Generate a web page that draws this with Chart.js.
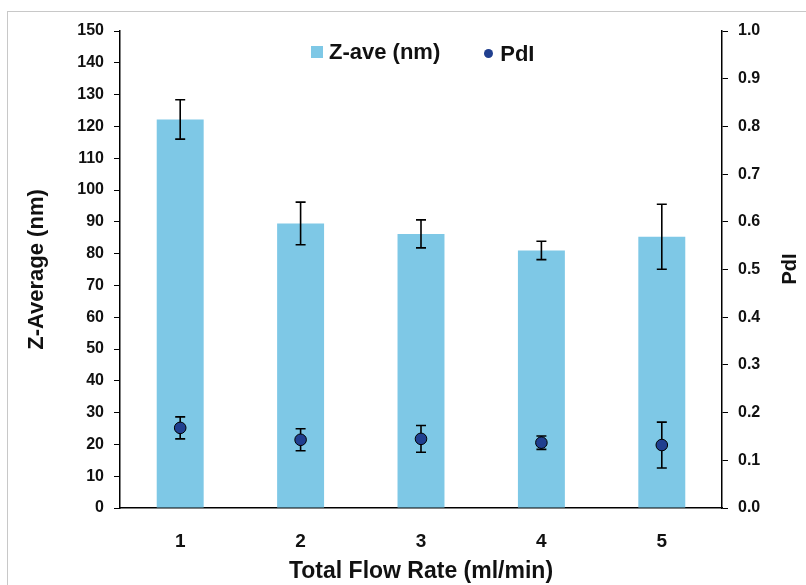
<!DOCTYPE html>
<html>
<head>
<meta charset="utf-8">
<script src="https://cdn.jsdelivr.net/npm/chart.js@4/dist/chart.umd.min.js"></script>
<style>
  html, body { margin: 0; padding: 0; background: #fff; overflow: hidden; }
  #wrap { position: relative; width: 806px; height: 585px; }
  #frame { position: absolute; left: 7px; top: 11px; width: 900px; height: 700px; border: 1px solid #c8c8c8; }
  #legend { position: absolute; top: 38px; left: 311px; white-space: nowrap;
    font: bold 22px "Liberation Sans", Arial, sans-serif; color: #111; }
  #legend span { display: inline-flex; align-items: center; }
  .sq { width: 12px; height: 12px; background: #7ec8e6; margin-right: 6px; }
  .dot { width: 9px; height: 9px; border-radius: 50%; background: #203f8f; margin: 0 7px 0 44px; }
</style>
</head>
<body>
<div id="wrap">
  <div id="frame"></div>
  <canvas id="chart" width="806" height="585"></canvas>
  <div id="legend"><span><i class="sq"></i>Z-ave (nm)</span><span><i class="dot"></i>PdI</span></div>
</div>
<script>
// values
const flowRates = ["1", "2", "3", "4", "5"];
const zAve = [122.2, 89.5, 86.2, 81.0, 85.3];
const zAveErr = [6.2, 6.7, 4.4, 2.9, 10.2];
const pdi = [0.168, 0.143, 0.145, 0.137, 0.132];
const pdiErr = [0.023, 0.023, 0.028, 0.014, 0.048];

// draws the error bars, points on top, and the right axis title
const extras = {
  id: "extras",
  afterDatasetsDraw(chart) {
    const ctx = chart.ctx;
    const x = chart.scales.x;
    const sets = [
      { scale: chart.scales.y, vals: zAve, errs: zAveErr },
      { scale: chart.scales.y1, vals: pdi, errs: pdiErr },
    ];
    ctx.save();
    ctx.strokeStyle = "#000";
    ctx.lineWidth = 1.6;
    sets.forEach((s) => {
      s.vals.forEach((v, i) => {
        const px = x.getPixelForValue(i);
        const top = s.scale.getPixelForValue(v + s.errs[i]);
        const bot = s.scale.getPixelForValue(v - s.errs[i]);
        ctx.beginPath();
        ctx.moveTo(px, top); ctx.lineTo(px, bot);
        ctx.moveTo(px - 5, top); ctx.lineTo(px + 5, top);
        ctx.moveTo(px - 5, bot); ctx.lineTo(px + 5, bot);
        ctx.stroke();
      });
    });
    const meta = chart.getDatasetMeta(1);
    meta.data.forEach((pt) => {
      ctx.beginPath();
      ctx.arc(pt.x, pt.y, 5.8, 0, Math.PI * 2);
      ctx.fillStyle = "#203f8f";
      ctx.fill();
      ctx.lineWidth = 1;
      ctx.strokeStyle = "#000";
      ctx.stroke();
    });
    ctx.restore();

    ctx.save();
    ctx.translate(790, 269);
    ctx.rotate(-Math.PI / 2);
    ctx.font = "bold 20px 'Liberation Sans', Arial, sans-serif";
    ctx.fillStyle = "#111";
    ctx.textAlign = "center";
    ctx.textBaseline = "middle";
    ctx.fillText("PdI", 0, 0);
    ctx.restore();
  },
};

const tickFont = { family: "'Liberation Sans', Arial, sans-serif", size: 16, weight: "bold" };
const titleFont = { family: "'Liberation Sans', Arial, sans-serif", size: 22, weight: "bold" };

new Chart(document.getElementById("chart"), {
  data: {
    labels: flowRates,
    datasets: [
      {
        type: "bar",
        label: "Z-ave (nm)",
        data: zAve,
        backgroundColor: "#7ec8e6",
        categoryPercentage: 1,
        barPercentage: 0.39,
        yAxisID: "y",
        order: 2,
      },
      {
        type: "line",
        label: "PdI",
        data: pdi,
        showLine: false,
        pointRadius: 0,
        yAxisID: "y1",
        order: 1,
      },
    ],
  },
  options: {
    responsive: false,
    animation: false,
    layout: { padding: { top: 31, left: 0, right: 0, bottom: 0 } },
    plugins: { legend: { display: false }, tooltip: { enabled: false } },
    scales: {
      x: {
        grid: { display: false },
        border: { display: true, color: "#000", width: 1.5 },
        ticks: { color: "#111", font: { ...tickFont, size: 19 }, padding: 14 },
        title: { display: true, text: "Total Flow Rate (ml/min)", color: "#111", font: { ...titleFont, size: 23 }, padding: { top: 0, bottom: 0 } },
        afterFit: (s) => { s.height = 77; },
      },
      y: {
        position: "left",
        min: 0,
        max: 150,
        ticks: { stepSize: 10, color: "#111", font: tickFont, padding: 10 },
        grid: { drawOnChartArea: false, tickLength: 6, color: "#000" },
        border: { display: true, color: "#000", width: 1.5 },
        title: { display: true, text: "Z-Average (nm)", color: "#111", font: titleFont, padding: { top: 24, bottom: 0 } },
        afterFit: (s) => { s.width = 120; },
      },
      y1: {
        position: "right",
        min: 0,
        max: 1,
        ticks: { stepSize: 0.1, color: "#111", font: tickFont, padding: 10, callback: (v) => v.toFixed(1) },
        grid: { drawOnChartArea: false, tickLength: 6, color: "#000" },
        border: { display: true, color: "#000", width: 1.5 },
        afterFit: (s) => { s.width = 84; },
      },
    },
  },
  plugins: [extras],
});
</script>
</body>
</html>
